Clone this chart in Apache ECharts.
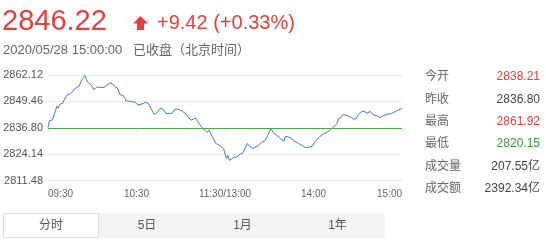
<!DOCTYPE html>
<html><head><meta charset="utf-8">
<script src="https://cdn.jsdelivr.net/npm/echarts@6/dist/echarts.min.js"></script>
<style>html,body{margin:0;padding:0;background:#fff}#c{width:546px;height:244px}</style>
</head><body><div id="c"></div>
<script>
const prevClose = 2836.80;
const lastPrice = '2846.22';
const changeText = '+9.42 (+0.33%)';
const dateText = '2020/05/28 15:00:00';
const statusText = '已收盘（北京时间）';
const tickLabels = ['09:30', '10:30', '11:30/13:00', '14:00', '15:00'];
const statNames = ['今开', '昨收', '最高', '最低', '成交量', '成交额'];
const statValues = ['2838.21', '2836.80', '2861.92', '2820.15', '207.55亿', '2392.34亿'];
const statColors = ['#e6403d', '#444', '#e6403d', '#3a9a3a', '#444', '#444'];
const tabNames = ['分时', '5日', '1月', '1年'];
const minutes = [0,1,3,5,6,7,8,9,10,11,13,14,15,16,17,18,19,21,22,23,25,26,27,28,30,31,32,33,34,35,36,38,39,40,41,42,43,44,45,47,48,49,50,51,52,53,54,59,60,61,63,66,67,68,69,70,72,74,76,77,78,80,84,86,88,91,93,95,97,100,101,103,105,108,109,110,112,114,117,119,120,
121,122,123,124,126,128,130,132,134,135,137,139,140,143,145,147,149,151,153,155,157,158,160,161,163,165,167,170,172,174,176,179,181,182,184,187,189,191,193,196,197,198,199,200,202,205,207,209,210,213,214,215,217,218,221,223,225,226,227,230,233,235,237,239,240];
const prices = [2837.0,2840.1,2840.6,2844.8,2847.2,2846.2,2848.1,2848.1,2848.6,2850.2,2852.6,2853.4,2853.0,2853.4,2854.3,2855.5,2855.9,2856.7,2858.3,2859.9,2861.92,2859.9,2858.7,2857.8,2856.7,2855.0,2855.9,2856.3,2856.2,2856.2,2855.5,2856.2,2856.7,2857.2,2857.8,2858.3,2859.1,2857.8,2856.7,2855.9,2854.3,2852.6,2853.4,2852.3,2851.0,2849.7,2849.1,2849.1,2849.0,2847.7,2848.0,2849.0,2849.6,2848.5,2847.3,2845.7,2843.2,2844.1,2846.1,2846.8,2845.7,2843.7,2843.7,2845.7,2845.7,2844.8,2843.7,2842.0,2840.4,2841.5,2840.4,2838.3,2836.4,2834.5,2835.6,2834.5,2831.6,2829.2,2828.0,2826.8,2826.3,
2822.0,2823.5,2821.1,2820.15,2822.7,2822.7,2824.0,2824.7,2827.5,2829.2,2827.9,2826.8,2827.5,2828.4,2830.0,2830.4,2833.2,2836.4,2834.3,2833.2,2832.1,2831.1,2830.4,2832.7,2832.4,2831.6,2830.4,2829.2,2828.4,2827.5,2827.3,2827.9,2830.0,2830.8,2832.4,2834.0,2834.5,2835.6,2836.9,2838.8,2841.2,2840.4,2842.0,2843.2,2842.8,2842.0,2840.9,2841.2,2842.8,2844.8,2844.1,2844.4,2843.7,2844.8,2842.8,2842.5,2841.5,2841.2,2842.5,2843.3,2843.7,2844.4,2845.2,2845.7,2846.22];

const FONT = "'Liberation Sans', Arial, 'Noto Sans CJK SC', sans-serif";
const RED = '#e6403d';
const step = 12.66;

const chart = echarts.init(document.getElementById('c'), null, {renderer: 'canvas'});

const graphics = [];
graphics.push({type: 'text', x: 2, y: 22, style: {text: lastPrice, fill: RED, font: '29px ' + FONT, verticalAlign: 'middle'}});
graphics.push({type: 'polygon', shape: {points: [[140.5,16],[148,23.5],[144,23.5],[144,30],[137,30],[137,23.5],[133,23.5]]}, style: {fill: RED}});
graphics.push({type: 'text', x: 157, y: 23, style: {text: changeText, fill: RED, font: '20px ' + FONT, verticalAlign: 'middle'}});
graphics.push({type: 'text', x: 3, y: 50, style: {text: dateText, fill: '#666', font: '13px ' + FONT, verticalAlign: 'middle'}});
graphics.push({type: 'text', x: 133, y: 50, style: {text: statusText, fill: '#666', font: '13px ' + FONT, verticalAlign: 'middle'}});
statNames.forEach((n, i) => {
  const y = 77 + i * 22.3;
  graphics.push({type: 'text', x: 425, y: y, style: {text: n, fill: '#666', font: '12px ' + FONT, verticalAlign: 'middle'}});
  graphics.push({type: 'text', x: 540, y: y, style: {text: statValues[i], fill: statColors[i], font: '12px ' + FONT, verticalAlign: 'middle', align: 'right'}});
});
const tabX = [3, 99, 195, 290, 385];
tabNames.forEach((n, i) => {
  const x0 = tabX[i], x1 = tabX[i + 1];
  graphics.push({type: 'rect', shape: {x: x0 + 0.5, y: 213.5, width: x1 - x0 - 1, height: 24}, style: {fill: i === 0 ? '#fff' : '#f4f4f4', stroke: i === 0 ? '#dcdcdc' : '#f4f4f4', lineWidth: 1}});
  graphics.push({type: 'text', x: (x0 + x1) / 2, y: 226, style: {text: n, fill: '#555', font: '12px ' + FONT, align: 'center', verticalAlign: 'middle'}});
});

chart.setOption({
  animation: false,
  grid: {left: 48, right: 144, top: 75, bottom: 63.5, containLabel: false},
  xAxis: {
    type: 'value', min: 0, max: 240, interval: 60,
    axisLine: {lineStyle: {color: '#e3e3e3'}},
    axisTick: {show: true, length: 4, lineStyle: {color: '#e3e3e3'}},
    splitLine: {show: false},
    axisLabel: {color: '#666', fontSize: 10, fontFamily: FONT, margin: 9,
      alignMinLabel: 'left', alignMaxLabel: 'right',
      formatter: v => tickLabels[Math.round(v / 60)]}
  },
  yAxis: {
    type: 'value', min: -2 * step, max: 2 * step, interval: step,
    axisLine: {show: false}, axisTick: {show: false},
    splitLine: {lineStyle: {color: '#ebebeb'}},
    axisLabel: {color: '#555', fontSize: 11, fontFamily: FONT, margin: 5,
      formatter: v => (prevClose + v).toFixed(2)}
  },
  series: [{
    type: 'line', symbol: 'none', smooth: false,
    lineStyle: {color: '#3d7ad6', width: 1},
    data: minutes.map((m, i) => [m, +(prices[i] - prevClose).toFixed(4)]),
    markLine: {silent: true, symbol: 'none', label: {show: false},
      lineStyle: {color: '#4caa4c', type: 'solid', width: 1},
      data: [{yAxis: 0}]}
  }],
  graphic: graphics
});
</script></body></html>
